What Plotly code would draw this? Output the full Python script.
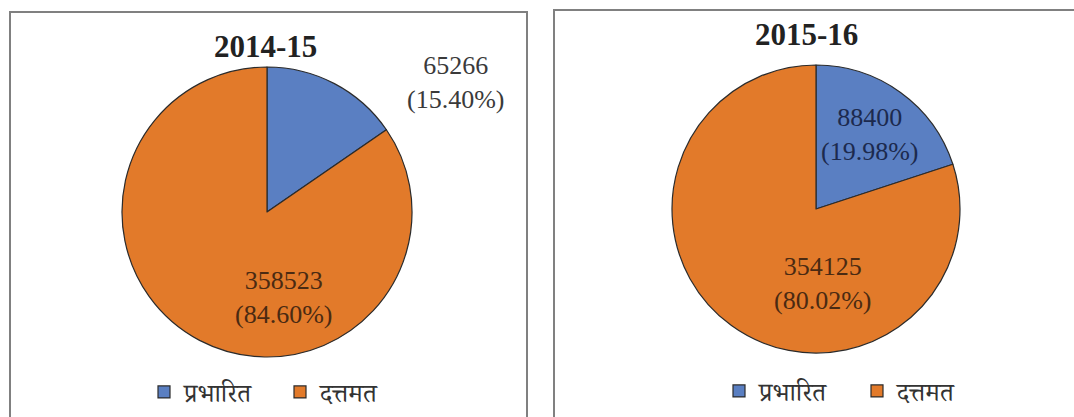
import plotly.graph_objects as go

# Data
categories = ["प्रभारित", "दत्तमत"]
years = ["2014-15", "2015-16"]
values_2014 = [65266, 358523]
values_2015 = [88400, 354125]

colors = ["#5a7fc2", "#e27a2a"]
W, H = 1074, 417


def px(x):
    return x / W


def py(y):
    return 1 - y / H


def label_text(values, i):
    total = sum(values)
    return f"{values[i]}<br>({values[i] / total * 100:.2f}%)"


fig = go.Figure()

pie_common = dict(
    labels=categories,
    sort=False,
    direction="clockwise",
    rotation=0,
    textinfo="none",
    hoverinfo="label+value+percent",
    marker=dict(colors=colors, line=dict(color="#2b2b2b", width=1.2)),
)

fig.add_trace(go.Pie(
    values=values_2014,
    domain=dict(x=[px(122), px(412)], y=[py(357), py(67)]),
    legend="legend",
    legendgroup="y2014",
    **pie_common,
))
fig.add_trace(go.Pie(
    values=values_2015,
    domain=dict(x=[px(672), px(960)], y=[py(353), py(65)]),
    legend="legend2",
    legendgroup="y2015",
    **pie_common,
))

serif = "Liberation Serif, Times New Roman, serif"
annotations = []

# Year titles
for text, x, y in [(years[0], 265, 47), (years[1], 806, 34)]:
    annotations.append(dict(
        text=f"<b>{text}</b>", x=px(x), y=py(y), xref="paper", yref="paper",
        showarrow=False, font=dict(family=serif, size=31, color="#222222"),
        xanchor="center", yanchor="middle",
    ))

# Value labels
label_specs = [
    (values_2014, 0, 455, 82, "#3a3a3a"),
    (values_2014, 1, 283, 297, "#4a2a12"),
    (values_2015, 0, 869, 134, "#1c2a4e"),
    (values_2015, 1, 822, 283, "#4a2a12"),
]
for vals, i, x, y, c in label_specs:
    annotations.append(dict(
        text=label_text(vals, i), x=px(x), y=py(y), xref="paper", yref="paper",
        showarrow=False, align="center",
        font=dict(family=serif, size=26, color=c),
        xanchor="center", yanchor="middle",
    ))

# Panel frames
shapes = [
    dict(type="rect", xref="paper", yref="paper",
         x0=px(10), x1=px(527), y0=-0.2, y1=py(12),
         line=dict(color="#808080", width=2)),
    dict(type="rect", xref="paper", yref="paper",
         x0=px(554), x1=1.2, y0=-0.2, y1=py(10),
         line=dict(color="#808080", width=2)),
]

legend_common = dict(
    orientation="h",
    traceorder="normal",
    font=dict(family="Noto Serif Devanagari, Noto Sans Devanagari, serif",
              size=26, color="#333333"),
    entrywidthmode="pixels",
    bgcolor="rgba(0,0,0,0)",
    xanchor="left",
    yanchor="middle",
    itemclick=False,
)

fig.update_layout(
    width=W,
    height=H,
    margin=dict(l=0, r=0, t=0, b=0, autoexpand=False),
    paper_bgcolor="white",
    plot_bgcolor="white",
    annotations=annotations,
    shapes=shapes,
    legend=dict(x=px(144), y=py(392), entrywidth=91, **legend_common),
    legend2=dict(x=px(719), y=py(391), entrywidth=93, **legend_common),
)

fig.write_html("out.html")
